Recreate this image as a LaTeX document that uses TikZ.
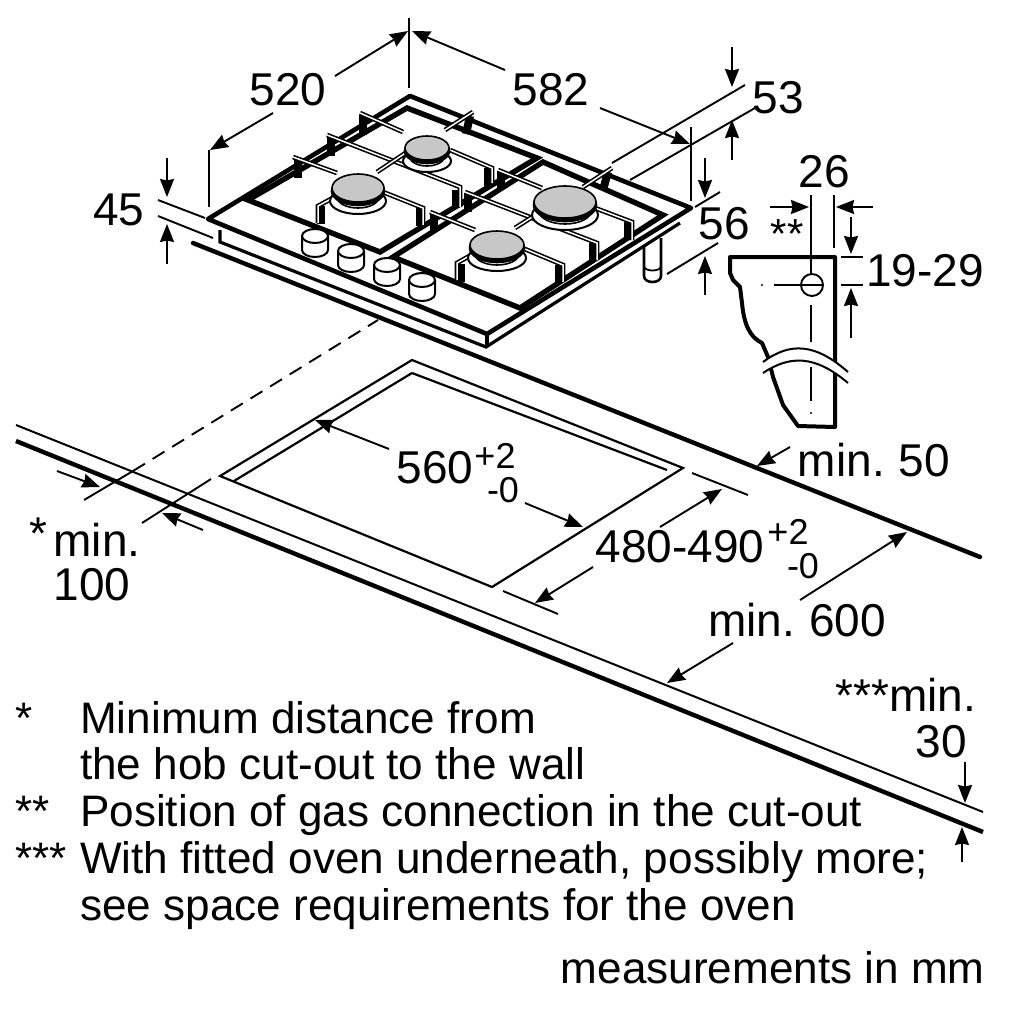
\documentclass[tikz,border=0pt]{standalone}
\usepackage{fontspec}
\setmainfont{Liberation Sans}
\usetikzlibrary{arrows.meta}
\newcommand{\lblfont}{\fontsize{46}{48}\selectfont}
\newcommand{\notefont}{\fontsize{44.1}{46}\selectfont}
\newcommand{\supfont}{\fontsize{36}{38}\selectfont}
\tikzset{
    lbl/.style={inner sep=0pt, font=\lblfont},
    supnum/.style={inner sep=0pt, font=\supfont},
    note/.style={inner sep=0pt, anchor=base west, font=\notefont},
    dim/.style={-{Stealth[length=18pt, width=14pt, inset=1.5pt]}, line width=1.9pt},
    ext/.style={line width=1.9pt},
    plate/.style={line width=4.6pt, line join=round},
    plateedge/.style={line width=3.2pt},
    grate/.style={line width=5.4pt, line join=miter},
    arm/.style={line width=1.6pt, double=white, double distance=1.5pt, line join=miter},
    block/.style={line width=8pt},
    wave/.style={line width=2pt},
}
\begin{document}
\begin{tikzpicture}[x=1pt, y=-1pt]
    \useasboundingbox (0,0) rectangle (1020,1018);

    % worktop
    \draw[line width=4.4pt, line cap=round] (193,243) -- (980,557);
    \draw[line width=2pt] (16,425) -- (983,812);
    \draw[line width=4.4pt] (16,441) -- (983,832);

    % cut-out
    \draw[line width=2.2pt, line join=miter] (412,373) -- (234,481);
    \draw[line width=2.2pt] (412,373) -- (667,470);
    \draw[line width=2.2pt, line join=miter] (220,476) -- (412,360) -- (683,468) -- (492,587) -- cycle;

    % wall distance
    \draw[line width=1.9pt, dash pattern=on 14pt off 9pt] (133,471) -- (378,320);
    \draw[ext] (84,500) -- (133,471);
    \draw[ext] (142,523) -- (211,479);
    \draw[dim] (57,471) -- (100,487);
    \draw[dim] (203,530) -- (162,513);

    % hob
    \draw[plate, fill=white] (208,219) -- (410,96) -- (691,208) -- (487,334) -- cycle;
    \draw[plateedge] (220,230) -- (220,242) -- (486,347) -- (680,223);
    \draw[plateedge] (487,334) -- (487,347);
    \draw[line width=2.6pt] (644,246) -- (644,276) .. controls (644,284) and (661,284) .. (661,276) -- (661,238);
    \draw[line width=1.8pt] (644,266) .. controls (644,272) and (661,272) .. (661,266);

    % grates
    \draw[grate] (248,200) -- (407,108) -- (537,158) -- (380,252) -- cycle;
    \draw[grate] (393,257) -- (543,162) -- (663,215) -- (520,308) -- cycle;

    % blocks of the supports
    \foreach \ax/\ay/\bx/\by in {298/158/298/178, 331/137/331/156, 363/115/363/135, 470/116/466/134,
        488/168/488/186, 456/190/456/208, 321/206/321/224, 420/208/420/226, 434/213/434/232,
        468/193/468/212, 501/171/501/188, 608/172/603/190, 628/222/628/240, 593/243/593/260,
        461/264/461/282, 559/265/559/283}
        \draw[block] (\ax,\ay) -- (\bx,\by);

    % supports
    \draw[arm] (293,157) -- (337,173);
    \draw[arm] (327,135) -- (460,187) -- (460,207);
    \draw[arm] (360,113) -- (403,132);
    \draw[arm] (473,112) -- (445,130);
    \draw[arm] (407,152) -- (377,172);
    \draw[arm] (450,150) -- (492,168) -- (492,183);
    \draw[arm] (342,193) -- (318,206) -- (318,223);
    \draw[arm] (383,192) -- (423,208) -- (423,225);
    \draw[arm] (430,212) -- (475,230);
    \draw[arm] (465,192) -- (597,243) -- (597,260);
    \draw[arm] (498,170) -- (542,188);
    \draw[arm] (612,168) -- (583,187);
    \draw[arm] (587,205) -- (632,222) -- (632,240);
    \draw[arm] (548,207) -- (515,228);
    \draw[arm] (480,250) -- (457,263) -- (457,280);
    \draw[arm] (520,247) -- (563,265) -- (563,282);

    % burners
    \foreach \bx/\by/\brx/\bry in {427/148/22/12, 358/188/26/14, 565/202/31/16, 497/245/27/14} {
        \draw[line width=2pt, fill=white] (\bx,\by+13) ellipse[x radius=\brx+2, y radius=\bry-1];
        \draw[line width=1.6pt, fill=white] (\bx,\by+9) ellipse[x radius=\brx-5, y radius=\bry-3];
        \draw[line width=2.6pt, fill=black] (\bx,\by+3) ellipse[x radius=\brx, y radius=\bry];
        \draw[line width=1.6pt, fill=black!22] (\bx,\by) ellipse[x radius=\brx, y radius=\bry];
    }

    % knobs
    \foreach \kx/\ky in {315/236, 351/251, 387/265, 422/280} {
        \draw[line width=2pt, fill=white] (\kx-13,\ky) -- (\kx-13,\ky+14)
            arc[start angle=180, end angle=360, x radius=13, y radius=-7] -- (\kx+13,\ky);
        \draw[line width=2pt, fill=white] (\kx,\ky) ellipse[x radius=13, y radius=7];
    }

    % hob dimensions
    \draw[ext] (209,150) -- (209,207);
    \draw[ext] (409,18) -- (409,88);
    \draw[ext] (691,127) -- (691,201);
    \draw[dim] (273,113) -- (210,150);
    \draw[dim] (335,76) -- (408,31);
    \draw[dim] (505,70) -- (412,31);
    \draw[dim] (600,108) -- (690,144);
    \node[lbl] (w520) at (288,90) {520};
    \node[lbl] (w582) at (551,90) {582};

    \draw[ext] (612,163) -- (745,85);
    \draw[ext] (630,180) -- (755,108);
    \draw[dim] (732,47) -- (732,87);
    \draw[dim] (732,160) -- (732,120);
    \node[lbl] (h53) at (778,98) {53};

    \draw[ext] (695,207) -- (720,192);
    \draw[ext] (667,274) -- (718,243);
    \draw[dim] (705,158) -- (705,198);
    \draw[dim] (705,295) -- (705,256);
    \node[lbl] (h56) at (724,224) {56};

    \draw[ext] (158,200) -- (205,218);
    \draw[ext] (158,216) -- (213,238);
    \draw[dim] (167,158) -- (167,197);
    \draw[dim] (167,264) -- (167,224);
    \node[lbl] (h45) at (119,210) {45};

    % section of the worktop
    \draw[line width=4pt, line join=round, fill=white] (730,273) -- (730,257) -- (835,257) -- (835,427) -- (798,426)
        -- (783,405) -- (773,377) -- (768,357) -- (762,343) .. controls (750,337) and (744,325) .. (742,303)
        -- (740,287) -- (733,280) -- cycle;
    \draw[ext] (811,248) -- (811,275);
    \draw[ext] (811,305) -- (811,342);
    \draw[ext] (811,367) -- (811,401);
    \fill (811,413) circle[radius=1.2pt];
    \fill (762,285) circle[radius=1.2pt];
    \fill (835,285) circle[radius=1.2pt];
    \draw[ext] (774,285) -- (823,285);
    \draw[line width=1.9pt] (812,285) circle[radius=11pt];
    \fill[white] (763,362) .. controls (790,342) and (815,343) .. (848,372) -- (848,383) .. controls (815,355) and (790,355) .. (763,373) -- cycle;
    \draw[wave] (763,362) .. controls (790,342) and (815,343) .. (848,372);
    \draw[wave] (763,373) .. controls (790,355) and (815,355) .. (848,383);

    \draw[ext] (811,195) -- (811,248);
    \draw[ext] (834,195) -- (834,248);
    \draw[dim] (770,207) -- (809,207);
    \draw[dim] (873,207) -- (836,207);
    \draw[dim] (851,217) -- (851,254);
    \draw[dim] (851,338) -- (851,288);
    \draw[ext] (841,257) -- (863,257);
    \draw[ext] (841,285) -- (863,285);
    \node[lbl] (w26) at (824,172) {26};
    \node[inner sep=0pt, font=\fontsize{42}{44}\selectfont] (pos) at (787,234) {**};
    \node[lbl] (h19) at (925,271) {19-29};

    % cut-out dimensions
    \draw[dim] (389,449) -- (315,420);
    \draw[dim] (525,503) -- (583,527);
    \node[lbl] (c560) at (435,468) {560};
    \node[supnum] (c560up) at (495,456) {+2};
    \node[supnum] (c560lo) at (503,490) {-0};

    \draw[ext] (692,473) -- (748,495);
    \draw[ext] (503,591) -- (558,614);
    \draw[dim] (660,527) -- (722,489);
    \draw[dim] (593,567) -- (535,603);
    \node[lbl] (c480) at (680,547) {480-490};
    \node[supnum] (c480up) at (788,532) {+2};
    \node[supnum] (c480lo) at (803,566) {-0};

    \draw[dim] (800,600) -- (907,532);
    \draw[dim] (733,643) -- (667,683);
    \node[lbl] (m600) at (797,620) {min.\hspace{-3pt} 600};

    \draw[dim] (790,447) -- (757,466);
    \node[lbl] (m50) at (874,460) {min.\hspace{-3pt} 50};

    \node[lbl] (star) at (38,534) {*};
    \node[lbl] (m100a) at (97,540) {min.};
    \node[lbl] (m100b) at (92,585) {100};

    \node[lbl] (m30a) at (906,695) {***min.};
    \node[lbl] (m30b) at (941,742) {30};
    \draw[dim] (965,762) -- (965,803);
    \draw[dim] (962,862) -- (962,827);

    % notes
    \node[note] (n1) at (15,733) {*};
    \node[note] (t1) at (80,733) {Minimum distance from};
    \node[note] (t2) at (80,779) {the hob cut-out to the wall};
    \node[note] (n2) at (15,826) {**};
    \node[note] (t3) at (80,826) {Position of gas connection in the cut-out};
    \node[note] (n3) at (15,873) {***};
    \node[note] (t4) at (80,873) {With fitted oven underneath, possibly more;};
    \node[note] (t5) at (80,920) {see space requirements for the oven};
    \node[inner sep=0pt, anchor=base east, font=\notefont] (t6) at (985,983) {measurements in mm};
\end{tikzpicture}
\end{document}
